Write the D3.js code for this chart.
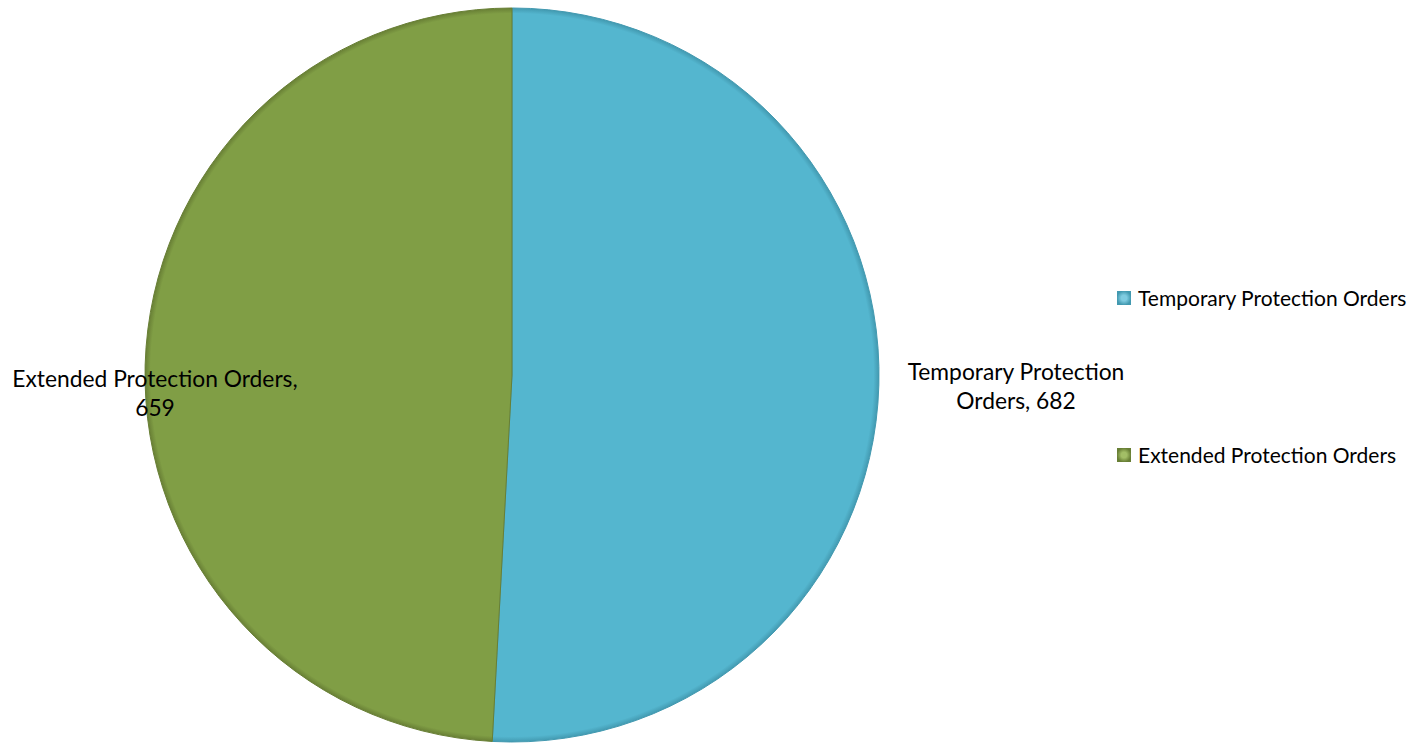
<!DOCTYPE html>
<html><head><meta charset="utf-8">
<script src="https://cdn.jsdelivr.net/npm/d3@7"></script>
<style>body{margin:0;background:#fff;} svg{display:block;}</style>
</head><body>
<svg id="chart" width="1414" height="744"></svg>
<script>
const categories = ["Temporary Protection Orders", "Extended Protection Orders"];
const values = [682, 659];
const labelLines = [["Temporary Protection", "Orders, 682"], ["Extended Protection Orders,", "659"]];
const colors = ["#54B6CF", "#809E45"];
const edgeColors = ["#4299B0", "#687F35"];
const lightColors = ["#7FCBE0", "#A2BE66"];

const svg = d3.select("#chart");
const cx = 512, cy = 375, r = 367;
const font = "Lato, 'Open Sans', sans-serif";

const defs = svg.append("defs");
categories.forEach((c, i) => {
  const g = defs.append("radialGradient").attr("id", "g" + i)
    .attr("gradientUnits", "userSpaceOnUse").attr("cx", 0).attr("cy", 0).attr("r", r);
  g.append("stop").attr("offset", "0.985").attr("stop-color", colors[i]);
  g.append("stop").attr("offset", "1").attr("stop-color", edgeColors[i]);
  const m = defs.append("radialGradient").attr("id", "m" + i);
  m.append("stop").attr("offset", "0.4").attr("stop-color", lightColors[i]);
  m.append("stop").attr("offset", "1").attr("stop-color", edgeColors[i]);
});

const pie = d3.pie().sort(null).value(d => d.v);
const data = pie(categories.map((c, i) => ({c, v: values[i], i})));
const arc = d3.arc().innerRadius(0).outerRadius(r);

const g = svg.append("g").attr("transform", `translate(${cx},${cy})`);
g.selectAll("path").data(data).enter().append("path")
  .attr("d", arc)
  .attr("fill", d => `url(#g${d.data.i})`)
  .attr("stroke", d => edgeColors[d.data.i])
  .attr("stroke-width", 1);

// data labels
const labelPos = [{x: 1016, y: 380}, {x: 155, y: 387}];
data.forEach((d, k) => {
  const L = labelPos[k];
  const t = svg.append("text").attr("text-anchor", "middle")
    .attr("font-family", font).attr("font-size", 22.8).attr("fill", "#000");
  labelLines[k].forEach((s, j) => {
    t.append("tspan").attr("x", L.x).attr("y", L.y + j * 28.5).text(s);
  });
});

// legend
const lg = svg.append("g");
const ly = d3.scalePoint().domain(categories).range([298, 455]);
categories.forEach((c, i) => {
  const y = ly(c);
  lg.append("rect").attr("x", 1117).attr("y", y - 7).attr("width", 14).attr("height", 14)
    .attr("fill", `url(#m${i})`);
  lg.append("text").attr("x", 1138).attr("y", y + 7.5)
    .attr("font-family", font).attr("font-size", 21).attr("fill", "#000").text(c);
});
</script>
</body></html>
